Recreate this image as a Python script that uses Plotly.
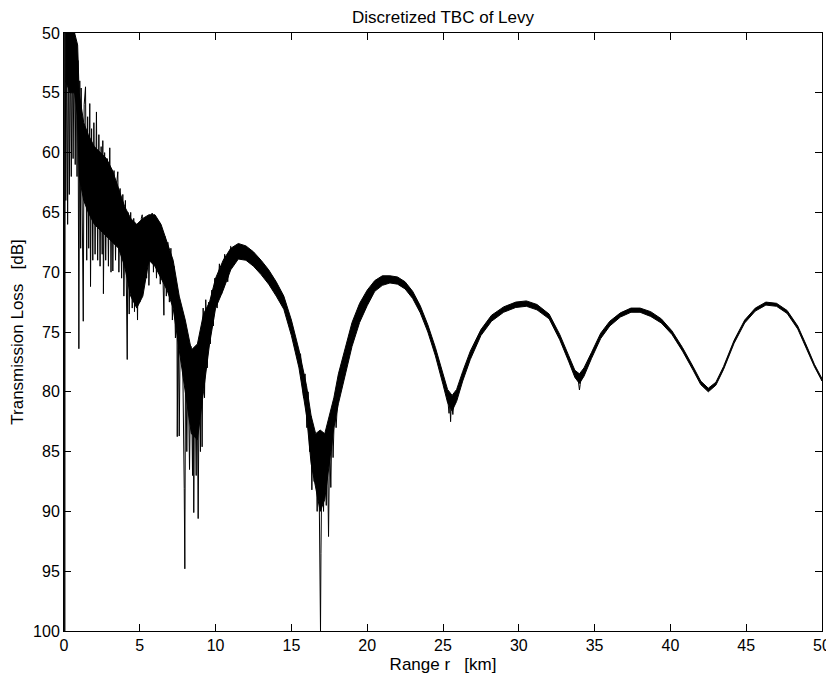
import plotly.graph_objects as go

# ---- core band of the transmission-loss curve (hand-read envelope) ----
band_r = [0.1, 0.4, 0.7, 0.9, 1.0, 1.3, 1.6, 2.0, 2.4, 2.8, 3.2, 3.6, 4.0, 4.4, 4.8, 5.2, 5.6, 6.0,
          6.4, 6.8, 7.2, 7.6, 8.0, 8.4, 8.8, 9.2, 9.6, 10.0, 10.5, 11.0, 11.5, 12.0, 12.5, 13.0,
          13.5, 14.0, 14.5, 15.0, 15.5, 16.0, 16.3, 16.6, 16.9, 17.2, 17.5, 17.8, 18.1, 18.5,
          19.0, 19.5, 20.0, 20.5, 21.0, 21.5, 22.0, 22.5, 23.0, 23.5, 24.0, 24.5, 25.0, 25.3,
          25.6, 25.9, 26.3, 26.8, 27.5, 28.2, 29.0, 29.8, 30.5, 31.2, 32.0, 32.7, 33.3, 33.7,
          34.0, 34.3, 34.8, 35.4, 36.0, 36.7, 37.4, 38.0, 38.7, 39.4, 40.1, 40.8, 41.5, 42.0,
          42.5, 43.0, 43.5, 44.2, 44.9, 45.6, 46.3, 47.0, 47.7, 48.4, 49.0, 49.5, 50.0]
band_top = [50, 50, 50, 51, 55, 57.5, 58.5, 59.5, 60, 60.5, 61.5, 63, 64.5, 65.5, 66, 65.5, 65.2, 65.2,
            66, 67.5, 69, 72, 74, 76.5, 76, 73.5, 72.5, 70.5, 69, 68, 67.6, 67.8, 68.3, 69,
            69.8, 70.8, 72, 74, 76.5, 79.5, 82, 83.5, 83.2, 83.5, 82, 80.5, 78.5, 76.5,
            74.2, 72.6, 71.5, 70.7, 70.3, 70.3, 70.4, 70.8, 71.6, 72.8, 74.4, 76.3, 78.5, 79.8,
            80.3, 79.8, 78.3, 76.6, 74.8, 73.6, 72.9, 72.5, 72.4, 72.7, 73.5, 75.2, 77.0, 78.2,
            78.5, 78.0, 76.7, 75.1, 74.1, 73.4, 73.0, 73.0, 73.3, 73.9, 74.9, 76.3, 77.9, 79.1,
            79.7, 79.2, 77.9, 75.7, 74.0, 73.0, 72.5, 72.6, 73.2, 74.5, 76.2, 77.7, 78.9]
band_bot = [54, 55, 55, 57, 62, 64, 65, 66, 66.5, 67, 67.5, 68, 69.5, 72, 73, 72, 69, 69.5,
            70.5, 71.5, 73, 76.5, 80, 83.5, 84, 80, 76, 73, 71.5, 69.8, 68.9, 69.0, 69.5, 70.2,
            71.0, 72.0, 73.1, 75.3, 78, 82, 86, 88, 90, 89, 86, 83, 81, 78.8,
            76.2, 74.2, 72.8, 71.6, 71.1, 70.9, 71.0, 71.4, 72.2, 73.4, 75.0, 77.0, 79.4, 80.9,
            81.6, 80.8, 79.1, 77.3, 75.3, 74.1, 73.35, 72.95, 72.85, 73.15, 73.9, 75.65, 77.5, 78.8,
            79.3, 78.7, 77.2, 75.55, 74.5, 73.75, 73.35, 73.35, 73.7, 74.25, 75.2, 76.6, 78.2, 79.4,
            80.0, 79.45, 78.15, 75.95, 74.25, 73.25, 72.75, 72.85, 73.45, 74.75, 76.45, 77.9, 79.1]

# ---- spiky near-field oscillations, 0-11 km (hand-read tips) ----
near_r = [0.02, 0.05, 0.08, 0.12, 0.18, 0.24, 0.3, 0.35, 0.42, 0.48, 0.55, 0.6, 0.68, 0.74, 0.8,
          0.86, 0.92, 0.98, 1.04, 1.1, 1.13, 1.2, 1.27, 1.33, 1.42, 1.5, 1.56, 1.63, 1.7, 1.75,
          1.82, 1.9, 1.97, 2.05, 2.14, 2.22, 2.3, 2.38, 2.45, 2.52, 2.56, 2.6, 2.68, 2.75, 2.85,
          2.93, 3.02, 3.1, 3.18, 3.22, 3.3, 3.4, 3.48, 3.55, 3.62, 3.7, 3.8, 3.88, 3.95, 4.05,
          4.12, 4.17, 4.22, 4.3, 4.4, 4.5, 4.6, 4.65, 4.75, 4.85, 4.92, 5.0, 5.1, 5.16, 5.25,
          5.35, 5.45, 5.55, 5.6, 5.7, 5.82, 5.9, 6.0, 6.1, 6.2, 6.25, 6.35, 6.45, 6.59, 6.65,
          6.75, 6.85, 6.95, 7.05, 7.15, 7.25, 7.35, 7.45, 7.47, 7.53, 7.6, 7.68, 7.8, 7.87,
          7.93, 7.97, 8.02, 8.1, 8.18, 8.28, 8.38, 8.48, 8.53, 8.56, 8.62, 8.72, 8.78, 8.85,
          8.92, 9.0, 9.05, 9.11, 9.18, 9.27, 9.35, 9.45, 9.55, 9.65, 9.75, 9.85, 9.95, 10.1,
          10.25, 10.4, 10.6, 10.8, 11.0]
near_tl = [50, 100, 50, 64, 50, 66, 50, 63.5, 50, 62, 50, 60.5, 50, 61, 51,
           62, 52.3, 76.4, 54, 68, 54.6, 67, 74.1, 56, 54.5, 69, 57, 68, 55.9, 71.2,
           58, 69, 57.5, 68.5, 56.6, 69, 58.5, 69.5, 59.5, 68.5, 59.0, 71.8, 60, 69, 60.5,
           69.5, 59.6, 70, 61.5, 69.9, 61.5, 69, 62.5, 61.6, 70, 63, 70.5, 63.5, 72, 64,
           73, 77.3, 65, 73.5, 65, 73, 65.5, 73.3, 66, 74, 66.2, 72.5, 65.5, 65.2, 71,
           66, 70.5, 65.6, 71.1, 65.5, 65.05, 70, 65.5, 70.5, 66, 65.8, 71, 66.5, 73.6, 67,
           72, 67.5, 72.5, 68, 74, 69.5, 75.5, 72, 83.75, 73, 83.7, 73.5, 74.0, 80,
           88.1, 94.8, 75.5, 85, 76.5, 86.5, 76.2, 87, 76.5, 90.1, 77, 87, 77.5, 90.6,
           78, 85, 75, 84.6, 73, 80.5, 72.3, 78, 72.5, 76, 71.5, 74.5, 70.5, 73,
           69.3, 71.8, 68.5, 70.8, 67.8]

# ---- spikes in the 17 km null ----
null17_r = [15.6, 15.8, 15.9, 16.02, 16.1, 16.2, 16.28, 16.35, 16.42, 16.5, 16.6, 16.7, 16.8,
            16.88, 16.92, 16.95, 17.02, 17.12, 17.2, 17.3, 17.37, 17.45, 17.52, 17.6, 17.68,
            17.75, 17.85, 17.95, 18.1]
null17_tl = [76.8, 80.5, 78.5, 83, 80, 85, 82, 88.2, 83, 87.5, 84, 90, 84,
             93.5, 100, 93.5, 85, 90, 84, 89.5, 84, 92.1, 84, 88, 82,
             85.5, 81, 83, 79.5]

# ---- small spikes in the 25.5 km and 34 km nulls ----
null25_r = [25.3, 25.4, 25.45, 25.5, 25.55, 25.65, 25.75]
null25_tl = [80.5, 81.8, 80.6, 82.5, 80.8, 81.9, 80.4]
null34_r = [33.9, 33.97, 34.0, 34.05, 34.1]
null34_tl = [78.8, 79.6, 79.85, 79.4, 78.9]

x_ticks = [0, 5, 10, 15, 20, 25, 30, 35, 40, 45, 50]
y_ticks = [50, 55, 60, 65, 70, 75, 80, 85, 90, 95, 100]

fig = go.Figure()
fig.add_trace(go.Scatter(
    x=band_r + band_r[::-1], y=band_top + band_bot[::-1],
    fill="toself", fillcolor="black", mode="lines",
    line=dict(color="black", width=1), hoverinfo="skip", showlegend=False))
for xs, ys in [(near_r, near_tl), (null17_r, null17_tl), (null25_r, null25_tl), (null34_r, null34_tl)]:
    fig.add_trace(go.Scatter(x=xs, y=ys, mode="lines",
                             line=dict(color="black", width=1.0), showlegend=False))

font_family = "Liberation Sans, Arial, Helvetica, sans-serif"
axis_common = dict(showgrid=False, zeroline=False, showline=True, linecolor="black", linewidth=1,
                   mirror="allticks", ticks="inside", ticklen=7, tickcolor="black", tickwidth=1,
                   automargin=False,
                   tickfont=dict(family=font_family, size=16, color="black"))

# the page body adds an 8 px offset, so the figure is sized/margined to compensate
fig.update_layout(
    width=826, height=676,
    margin=dict(l=56, r=12, t=25, b=53),
    paper_bgcolor="white", plot_bgcolor="white",
    font=dict(family=font_family, color="black"),
    title=dict(text="Discretized TBC of Levy", x=0.5, xref="paper", xanchor="center",
               y=1 - 9 / 676, yref="container", yanchor="middle",
               font=dict(family=font_family, size=17, color="black")),
    xaxis=dict(range=[0, 50], tickvals=x_ticks, ticktext=[str(v) for v in x_ticks],
               title=dict(text="Range r   [km]", standoff=4,
                          font=dict(family=font_family, size=17, color="black")),
               **axis_common),
    yaxis=dict(range=[100, 50], tickvals=y_ticks, ticktext=[str(v) for v in y_ticks],
               title=dict(text="Transmission Loss   [dB]", standoff=6,
                          font=dict(family=font_family, size=17, color="black")),
               **axis_common),
)

fig.write_html("out.html")
